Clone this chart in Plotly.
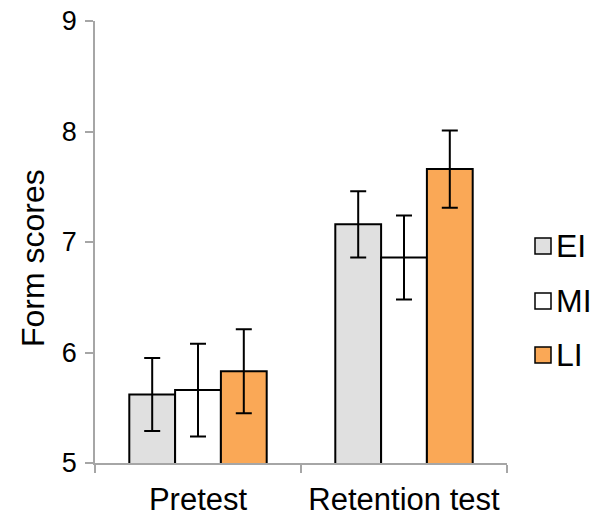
import plotly.graph_objects as go

# Mean form scores per test phase for the three groups, with error margins
phases = ["Pretest", "Retention test"]
groups = ["EI", "MI", "LI"]
ei_scores = [5.62, 7.16]
mi_scores = [5.66, 6.86]
li_scores = [5.83, 7.66]
ei_err = [0.33, 0.30]
mi_err = [0.42, 0.38]
li_err = [0.38, 0.35]
y_ticks = [5, 6, 7, 8, 9]

scores = [ei_scores, mi_scores, li_scores]
errors = [ei_err, mi_err, li_err]
fills = ["#e0e0e0", "#ffffff", "#faa856"]

FONT = "Arial, Liberation Sans, sans-serif"
AXIS_GREY = "#a6a6a6"

W, H = 593, 519
L, R, T, B = 95, 86, 21, 56
plot_w = W - L - R
plot_h = H - T - B

fig = go.Figure()
for name, vals, err, fill in zip(groups, scores, errors, fills):
    fig.add_trace(go.Bar(
        x=phases, y=vals, name=name,
        marker=dict(color=fill, line=dict(color="#000000", width=2)),
        error_y=dict(type="data", array=err, visible=True,
                     color="#000000", thickness=2, width=8),
        showlegend=False,
    ))

# Helpers converting pixel offsets into paper coordinates
def px_x(px):
    return (px - L) / plot_w

def px_y(py):
    return (H - B - py) / plot_h

# Legend drawn beside the plot: a framed swatch plus the group name per row
legend_rows = [246, 301, 355]
swatch = 16
for name, fill, row in zip(groups, fills, legend_rows):
    fig.add_shape(
        type="rect", xref="paper", yref="paper",
        x0=px_x(535), x1=px_x(535 + swatch),
        y0=px_y(row + swatch / 2), y1=px_y(row - swatch / 2),
        fillcolor=fill, line=dict(color="#000000", width=1.5),
    )
    fig.add_annotation(
        xref="paper", yref="paper", x=px_x(554), y=px_y(row),
        xanchor="left", yanchor="middle", text=name, showarrow=False,
        font=dict(size=32, family=FONT, color="#000000"),
    )

# Vertical axis title
fig.add_annotation(
    xref="paper", yref="paper", x=px_x(33), y=px_y(258),
    xanchor="center", yanchor="middle", textangle=-90,
    text="Form scores", showarrow=False,
    font=dict(size=32, family=FONT, color="#000000"),
)

fig.update_layout(
    width=W, height=H,
    margin=dict(l=L, r=R, t=T, b=B),
    paper_bgcolor="white", plot_bgcolor="white",
    barmode="group", bargap=0.333, bargroupgap=0,
    font=dict(family=FONT, color="#000000"),
    showlegend=False,
)

fig.update_yaxes(
    range=[5, 9], tickvals=y_ticks, ticktext=[str(v) for v in y_ticks],
    showgrid=False, zeroline=False, automargin=False,
    showline=True, linecolor=AXIS_GREY, linewidth=1.5,
    ticks="outside", ticklen=8, tickcolor=AXIS_GREY, tickwidth=1.5,
    tickfont=dict(size=27, family=FONT),
    ticklabelstandoff=3,
)
fig.update_xaxes(
    showgrid=False, zeroline=False, automargin=False,
    showline=True, linecolor=AXIS_GREY, linewidth=1.5,
    ticks="outside", tickson="boundaries", ticklen=8,
    tickcolor=AXIS_GREY, tickwidth=1.5,
    tickfont=dict(size=31, family=FONT),
    ticklabelstandoff=8,
)

fig.write_html("out.html")
